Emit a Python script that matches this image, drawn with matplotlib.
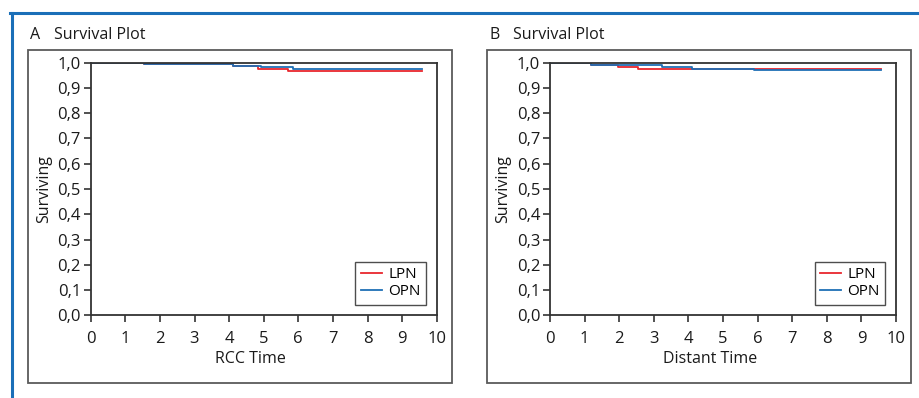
import matplotlib
matplotlib.use("Agg")
import matplotlib.pyplot as plt
from matplotlib.patches import Rectangle
from matplotlib.lines import Line2D

# Kaplan-Meier step data
lpn_a_t = [0, 1.55, 4.12, 4.84, 5.71, 9.58]
lpn_a_s = [1.0, 0.994, 0.986, 0.975, 0.968, 0.968]
opn_a_t = [0, 1.55, 4.12, 4.91, 5.85, 9.58]
opn_a_s = [1.0, 0.994, 0.988, 0.982, 0.974, 0.974]

lpn_b_t = [0, 1.18, 1.96, 2.53, 9.57]
lpn_b_s = [1.0, 0.991, 0.982, 0.975, 0.975]
opn_b_t = [0, 1.18, 3.24, 4.10, 5.89, 9.57]
opn_b_s = [1.0, 0.991, 0.983, 0.977, 0.973, 0.973]

panels = [
    ("A", "RCC Time", (lpn_a_t, lpn_a_s), (opn_a_t, opn_a_s)),
    ("B", "Distant Time", (lpn_b_t, lpn_b_s), (opn_b_t, opn_b_s)),
]
xticks = list(range(0, 11))
yticks = [i / 10 for i in range(0, 11)]
ytick_labels = [f"{v:.1f}".replace(".", ",") for v in yticks]

RED = "#e8262d"
BLUE = "#1f6fb5"
FRAME = "#1a6fb8"

plt.rcParams["font.family"] = ["Open Sans", "DejaVu Sans"]

W, H = 919, 398
fig = plt.figure(figsize=(W / 100, H / 100), dpi=100)

# blue journal frame
fig.add_artist(Line2D([10 / W, 1], [1 - 12.7 / H] * 2, color=FRAME, lw=2.2,
                      transform=fig.transFigure))
fig.add_artist(Line2D([11.5 / W] * 2, [0, 1 - 12.7 / H], color=FRAME, lw=2.2,
                      transform=fig.transFigure))

axes_left = [90.7, 550.0]
box_left = [28.0, 487.0]
for i, (letter, xlabel, lpn, opn) in enumerate(panels):
    # outer grey panel box
    fig.add_artist(Rectangle((box_left[i] / W, 1 - 383 / H), 424 / W, 333 / H,
                             fill=False, ec="#5a5a5a", lw=1.3,
                             transform=fig.transFigure))
    fig.text((box_left[i] + 2) / W, 1 - 35 / H, letter, fontsize=11.5,
             va="center", ha="left", color="#1a1a1a")
    fig.text((box_left[i] + 26) / W, 1 - 35 / H, "Survival Plot",
             fontsize=11.5, va="center", ha="left", color="#1a1a1a")

    ax = fig.add_axes([axes_left[i] / W, 1 - 315.3 / H, 346 / W, 252.6 / H])
    ax.step(lpn[0], lpn[1], where="post", color=RED, lw=1.3, label="LPN")
    ax.step(opn[0], opn[1], where="post", color=BLUE, lw=1.3, label="OPN")
    ax.set_xlim(0, 10)
    ax.set_ylim(0, 1.0)
    ax.set_xticks(xticks)
    ax.set_yticks(yticks)
    ax.set_yticklabels(ytick_labels)
    ax.tick_params(direction="out", length=5, width=1.2, labelsize=12,
                   color="#333333", labelcolor="#1a1a1a")
    ax.tick_params(axis="y", pad=2)
    ax.tick_params(axis="x", pad=6)
    for s in ax.spines.values():
        s.set_color("#333333")
        s.set_linewidth(1.3)
    ax.set_xlabel(xlabel, fontsize=11.5, color="#1a1a1a")
    ax.set_ylabel("Surviving", fontsize=11.5, color="#1a1a1a")
    ax.xaxis.set_label_coords(0.462, -0.141)
    ax.yaxis.set_label_coords(-0.112, 0.5)
    leg = ax.legend(loc="lower right", frameon=True, fancybox=False,
                    fontsize=11, handlelength=1.4, handletextpad=0.4,
                    borderaxespad=0.7, labelspacing=0.15, borderpad=0.35)
    leg.get_frame().set_edgecolor("#222222")
    leg.get_frame().set_linewidth(1.0)

fig.savefig("out.png", dpi=100)
